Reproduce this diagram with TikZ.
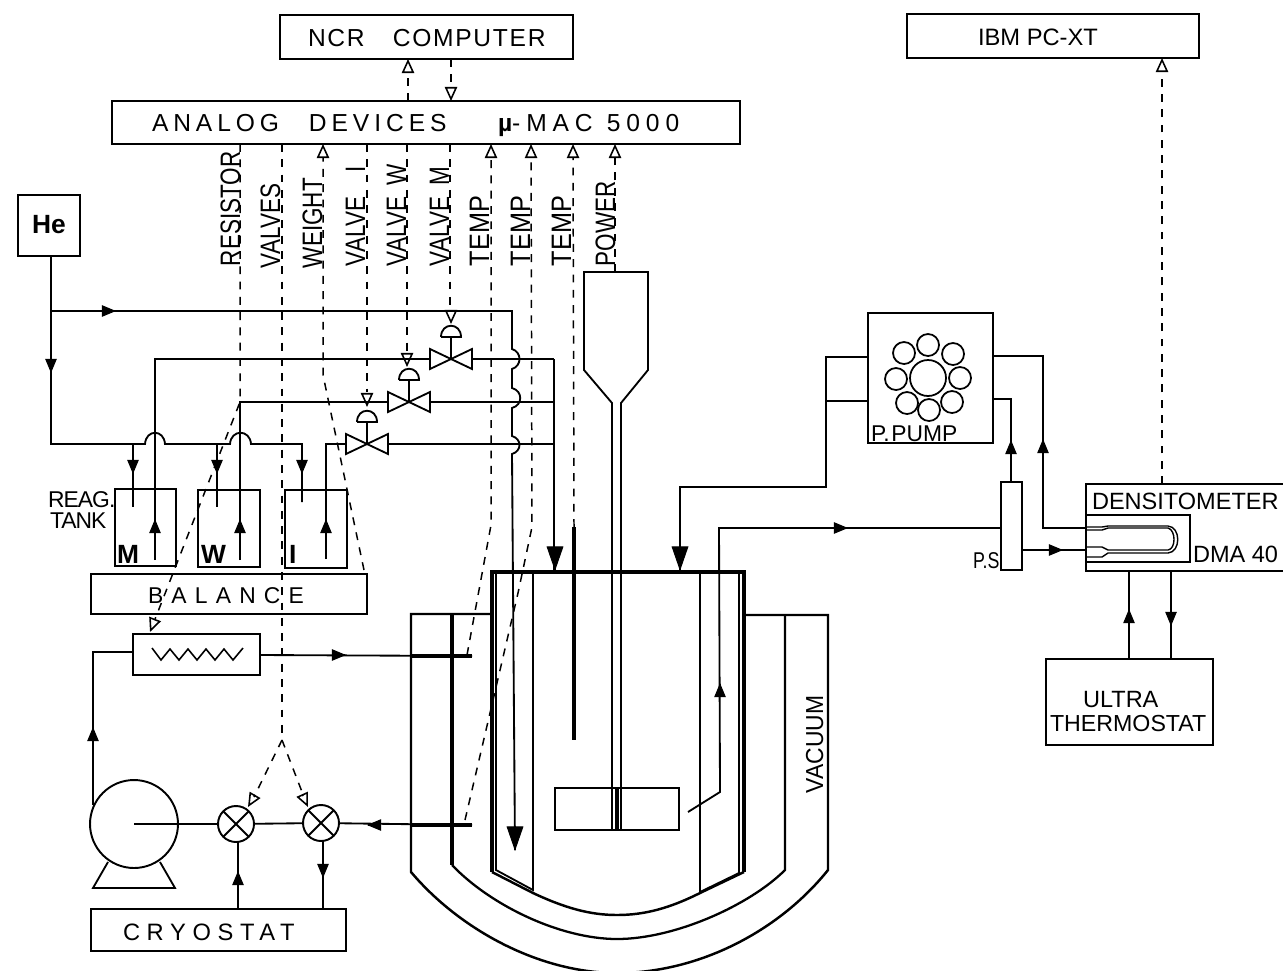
\documentclass[tikz,border=0pt]{standalone}
\usepackage{fontspec}
\setmainfont{Liberation Sans}
\usetikzlibrary{arrows.meta,calc}
\newcommand\fsz[1]{\fontsize{#1}{#1}\selectfont}
\newcommand\spc[1]{\addfontfeature{LetterSpace=#1}}
\tikzset{
  ln/.style={line width=1.05pt,line join=miter},
  thk/.style={line width=2pt},
  dsh/.style={line width=.85pt,dash pattern=on 4.5pt off 4.2pt},
  box/.style={draw,line width=1.1pt,inner sep=0pt,outer sep=0pt},
  lab/.style={inner sep=0pt,outer sep=0pt,anchor=base west},
  st/.style={line width=.6pt,-{Triangle[length=8pt,width=6.5pt]}},
  bg/.style={line width=.6pt,-{Triangle[length=14pt,width=9.5pt]}},
  op/.style={-{Triangle[open,length=8pt,width=7pt,line width=.9pt]}},
}
% box from two corners in pixels
\newcommand\bx[6][]{\node[box,#1,minimum width={(#5-#3)*0.02cm},minimum height={(#6-#4)*0.02cm}] (#2) at ({(#3+#5)/2},{(#4+#6)/2}) {};}
% horizontal text
\newcommand\tx[5][]{\node[lab,#1] (#2) at (#3,#4) {#5};}
% vertical text along a dashed line
\newcommand\rl[5]{\node[lab,rotate=90] (#1) at (#2,#3) {\fsz{16}\scalebox{#4}[1]{#5}};}
% head on a pipe
\newcommand\tp[3][st]{\draw[#1] (#2)--++(#3);}
\newcommand\valve[1]{\draw[ln,fill=white] (#1)--++(-21,-10)--++(0,20)--cycle (#1)--++(21,-10)--++(0,20)--cycle;
  \draw[ln] (#1)--++(0,-22);
  \draw[ln] ($(#1)+(-10,-22)$)--($(#1)+(10,-22)$) .. controls ($(#1)+(10,-37)$) and ($(#1)+(-10,-37)$) .. ($(#1)+(-10,-22)$);}
\newcommand\mixv[4]{\node[draw,circle,line width=1.1pt,inner sep=0pt,outer sep=0pt,minimum size=.72cm] (#1) at (#2,#3) {};
  \draw[ln] (#1.45)--(#1.225) (#1.135)--(#1.315);}
\begin{document}
\begin{tikzpicture}[x=.02cm,y=-.02cm]
\useasboundingbox (0,0) rectangle (1283,970);

% ---------- boxes
\bx{ncr}{280}{15}{573}{59}
\bx{ibm}{907}{14}{1199}{58}
\bx{analog}{112}{101}{740}{144}
\bx[line width=1.6pt]{he}{18}{195}{80}{256}
\bx{mtank}{115}{489}{176}{566}
\bx{wtank}{198}{490}{260}{567}
\bx{itank}{285}{490}{347}{568}
\bx{balance}{91}{574}{367}{614}
\bx{heater}{133}{634}{260}{675}
\bx{cryo}{91}{909}{346}{951}
\bx{ppump}{868}{313}{993}{443}
\bx{ps}{1001}{482}{1022}{570}
\bx{dens}{1086}{484}{1284}{571}
\bx{densin}{1086}{515}{1190}{562}
\bx{ultra}{1046}{659}{1213}{745}
\bx{blade}{555}{788}{679}{830}

% ---------- box texts
\tx{tncr}{308}{46}{\fsz{14}\spc{7}NCR\hspace{16pt}COMPUTER}
\tx{tibm}{978}{45}{\fsz{13.5}IBM PC-XT}
\tx{tana}{152}{131}{\fsz{14}\spc{20}ANALOG\hspace{17pt}DEVICES}
\tx{tmac}{498}{131}{\fsz{14}\spc{24}{\bfseries µ}-MAC\hspace{8pt}5000}
\tx{the}{32}{233}{\fsz{15}\bfseries He}
\tx{treag}{48}{507}{\fsz{13}\spc{-4}REAG.}
\tx{ttank}{50}{528}{\fsz{13}\spc{-4}TANK}
\tx{tm}{117}{563}{\fsz{15}\bfseries M}
\tx{tw}{201}{563}{\fsz{15}\bfseries W}
\tx{ti}{289}{563}{\fsz{15}\bfseries I}
\tx{tbal}{148}{603}{\fsz{13}\spc{36}BALANCE}
\tx{tcry}{123}{940}{\fsz{13.5}\spc{28}CRYOSTAT}
\tx{tpp}{871}{441}{\fsz{13}P.\hspace{1pt}PUMP}
\tx{tps}{973}{568}{\fsz{13}\scalebox{.78}[1]{P.S}}
\tx{tden}{1092}{509}{\fsz{13.4}DENSITOMETER}
\tx{tdma}{1193}{562}{\fsz{13.4}DMA 40}
\tx{tul}{1083}{707}{\fsz{13.4}ULTRA}
\tx{tth}{1050}{731}{\fsz{13.2}THERMOSTAT}

\rl{lres}{240}{266}{.8}{RESISTOR}
\rl{lval}{280}{268}{.8}{VALVES}
\rl{lwei}{322}{268}{.8}{WEIGHT}
\rl{lvi}{365}{266}{.8}{VALVE\hspace{17pt}I}
\rl{lvw}{406}{266}{.8}{VALVE\hspace{8pt}W}
\rl{lvm}{449}{266}{.8}{VALVE\hspace{8pt}M}
\rl{lt1}{489}{266}{.9}{TEMP}
\rl{lt2}{530}{266}{.9}{TEMP}
\rl{lt3}{571}{266}{.9}{TEMP}
\rl{lpow}{615}{266}{.8}{POWER}
\node[lab,rotate=90] (lvac) at (823,793) {\fsz{14}\scalebox{.93}[1]{VACUUM}};

% ---------- signal lines
\draw[dsh,op] (analog.north -| 408,0) -- (ncr.south -| 408,0);
\draw[dsh,op] (ncr.south -| 451,0) -- (analog.north -| 451,0);
\draw[dsh,op] (dens.north -| 1162,0) -- (ibm.south -| 1162,0);

\coordinate (vm) at (451,359);
\coordinate (vw) at (409,402);
\coordinate (vi) at (367,444);
\coordinate (tfork) at (282,740);
\coordinate (funtop) at (615,272);

\draw[dsh,op] (analog.south -| 240,0) -- (240,402) -- (150,632);
\draw[dsh] (analog.south -| 282,0) -- (tfork);
\draw[dsh] (tfork) -- (254,797);
\draw[dsh] (tfork) -- (304,797);
\draw[op,line width=.9pt] (255,795)--(248,807);
\draw[op,line width=.9pt] (303,796)--(308,807);
\draw[dsh,op] (364,570) -- (323,375) -- (analog.south -| 323,0);
\draw[dsh] (analog.south -| 367,0) -- (367,392);
\draw[dsh] (analog.south -| 407,0) -- (407,355);
\draw[dsh] (analog.south -| 450,0) -- (450,311);
\draw[ln,op] (367,393)--(367,407);
\draw[ln,op] (407,354)--(407,367);
\draw[ln,op] (451,311)--(451,324);
\draw[dsh,op] (467,655) -- (491,525) -- (analog.south -| 491,0);
\draw[dsh,op] (465,820) -- (518,593) -- (532,527) -- (analog.south -| 531,0);
\draw[dsh,op] (574,527) -- (analog.south -| 573,0);
\draw[dsh,op] (funtop) -- (analog.south -| 615,0);

% ---------- helium and reagent pipes
\draw[ln] (he.south -| 51,0) -- (51,444) -- (145,444) .. controls (146,429) and (164,429) .. (165,444) -- (230,444) .. controls (231,429) and (250,429) .. (251,444) -- (302,444) -- (itank.north -| 302,0) -- (302,502);
\draw[ln] (51,311) -- (512,311) -- (512,349) .. controls (522,352) and (522,366) .. (512,369) -- (512,388) .. controls (523,391) and (523,405) .. (512,408) -- (512,436) .. controls (522,439) and (522,451) .. (512,454) -- (515,850);
\draw[ln] (133,444) -- (133,507);
\draw[ln] (217,444) -- (217,507);
\draw[ln] (155,560) -- (155,359) -- (vm) -- (554,359);
\draw[ln] (240,560) -- (240,402) -- (vw) -- (554,402);
\draw[ln] (326,559) -- (326,444) -- (vi) -- (554,444);
\draw[ln] (554,359) -- (554,570);
\tp{115,311}{1,0}
\tp{51,372}{0,1}
\tp{133,473}{0,1}
\tp{217,473}{0,1}
\tp{302,473}{0,1}
\tp{155,520}{0,-1}
\tp{240,520}{0,-1}
\tp{326,520}{0,-1}
\tp[bg]{555,570}{0,1}
\valve{vm}
\valve{vw}
\valve{vi}

% ---------- reactor
\draw[thk] (492,872) -- (492,572) -- (744,572) -- (744,872);
\draw[ln,line width=1.4pt] (492,872) -- (533,893) .. controls (565,908) and (590,915) .. (617,915) .. controls (645,915) and (670,908) .. (700,893) -- (744,872);
\draw[ln] (496,572) -- (496,870) -- (533,890) -- (533,572);
\draw[ln] (700,572) -- (700,892) -- (739,873) -- (739,572);
\draw[ln,line width=1.4pt] (492,614) -- (411,614) -- (411,872) .. controls (460,930) and (540,973) .. (617,973) .. controls (700,973) and (780,930) .. (828,870) -- (828,615) -- (744,615);
\draw[thk,line width=1.8pt] (452,614) -- (452,865);
\draw[ln,line width=1.3pt] (452,865) .. controls (490,905) and (560,939) .. (617,939) .. controls (675,939) and (750,905) .. (785,870) -- (785,615);
% stirrer
\draw[ln] (funtop) -- (584,272) -- (584,370) -- (612,403) -- (612,830);
\draw[ln] (funtop) -- (648,272) -- (648,370) -- (621,403) -- (621,830);
\draw[line width=2.6pt] (617,788) -- (617,830);
% thermometers and pipes in vessel
\draw[line width=2.4pt] (574,527) -- (574,740);
\draw[ln] (ppump.west |- 0,357) -- (826,357) -- (826,487) -- (680,487) -- (680,571);
\draw[ln] (ppump.west |- 0,401) -- (826,401);
\tp[bg]{680,570}{0,1}
\draw[ln] (ps.west |- 0,528) -- (719,528) -- (720,792) -- (688,812);
\tp{720,684}{0,-1}
\tp{847,528}{1,0}
\tp[bg]{515,850}{0,1}

% ---------- peristaltic pump and densitometer
\node[draw,circle,line width=1pt,inner sep=0pt,minimum size=.72cm] (rotor) at (928,378) {};
\foreach \n/\a/\b in {r1/928/345,r2/904/353,r3/953/354,r4/896/379,r5/960/378,r6/907/403,r7/952/402,r8/929/410}
  \node[draw,circle,line width=1pt,inner sep=0pt,minimum size=.44cm] (\n) at (\a,\b) {};
\draw[ln] (ps.north -| 1011,0) -- (1011,399) -- (ppump.east |- 0,399);
\draw[ln] (ppump.east |- 0,356) -- (1043,356) -- (1043,528) -- (dens.west |- 0,528);
\draw[ln] (ps.east |- 0,550) -- (dens.west |- 0,550);
\tp{1011,441}{0,-1}
\tp{1043,440}{0,-1}
\tp{1062,550}{1,0}
\draw[ln,line width=.8pt] (1087,527) -- (1102,527) -- (1108,526) -- (1168,526) .. controls (1181,527) and (1181,552) .. (1168,553) -- (1108,553) -- (1102,557) -- (1087,557);
\draw[ln,line width=.8pt] (1087,530) -- (1102,530) -- (1108,528) -- (1168,528) .. controls (1176,530) and (1176,549) .. (1168,550) -- (1108,550) -- (1102,547) -- (1087,547);
\draw[ln] (ultra.north -| 1129,0) -- (dens.south -| 1129,0);
\draw[ln] (dens.south -| 1171,0) -- (ultra.north -| 1171,0);
\tp{1129,610}{0,-1}
\tp{1171,625}{0,1}

% ---------- cooling circuit
\node[draw,circle,line width=1.1pt,inner sep=0pt,outer sep=0pt,minimum size=1.76cm] (circ) at (134,824) {};
\draw[ln] (108,862) -- (93,888) -- (175,888) -- (160,862);
\mixv{m1}{236}{824}{}
\mixv{m2}{321}{823}{}
\draw[ln] (circ.center) -- (m1);
\draw[ln] (m1) -- (m2);
\draw[ln] (m2) -- (472,825);
\draw[thk] (411,825) -- (472,825);
\tp{368,825}{-1,0}
\draw[ln] (cryo.north -| 238,0) -- (m1.south -| 238,0);
\draw[ln] (m2.south -| 323,0) -- (cryo.north -| 323,0);
\tp{238,872}{0,-1}
\tp{323,877}{0,1}
\coordinate (circtop) at (93,805);
\draw[ln] (circtop) -- (93,652) -- (heater.west |- 0,652);
\tp{93,728}{0,-1}
\draw[ln] (heater.east |- 0,655) -- (472,656);
\draw[thk] (411,656) -- (472,656);
\tp{345,655}{1,0}
\draw[ln,line width=.9pt] (152,648)--(161,660)--(170,649)--(179,660)--(188,649)--(197,660)--(206,649)--(215,660)--(224,649)--(233,660)--(243,648);
\end{tikzpicture}
\end{document}
